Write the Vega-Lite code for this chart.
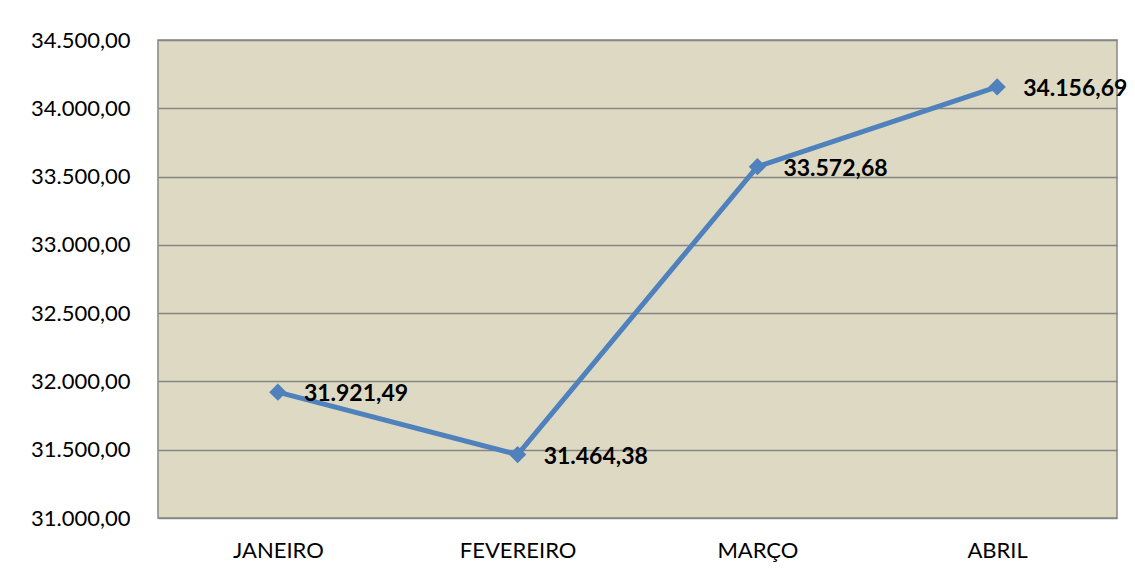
{
  "$schema": "https://vega.github.io/schema/vega-lite/v6.json",
  "autosize": "none",
  "width": 959,
  "height": 478,
  "padding": {"left": 158, "top": 40, "right": 18, "bottom": 62},
  "background": "white",
  "config": {
    "locale": {"number": {"decimal": ",", "thousands": ".", "grouping": [3], "currency": ["R$", ""]}},
    "view": {"fill": "#DDD9C3", "stroke": "#868686", "strokeWidth": 1.5},
    "font": "Lato"
  },
  "data": {"values": [
    {"mes": "JANEIRO", "valor": 31921.49},
    {"mes": "FEVEREIRO", "valor": 31464.38},
    {"mes": "MARÇO", "valor": 33572.68},
    {"mes": "ABRIL", "valor": 34156.69}
  ]},
  "encoding": {
    "x": {"field": "mes", "type": "nominal", "sort": null,
      "scale": {"paddingInner": 0, "paddingOuter": 0},
      "axis": {"title": null, "labelAngle": 0, "labelFontSize": 22, "labelColor": "#000000", "labelFont": "Lato", "domain": false, "ticks": false, "labelPadding": 22, "grid": false}},
    "y": {"field": "valor", "type": "quantitative",
      "scale": {"domain": [31000, 34500], "nice": false, "zero": false},
      "axis": {"title": null, "values": [31000, 31500, 32000, 32500, 33000, 33500, 34000, 34500], "format": ",.2f", "labelFontSize": 22, "labelColor": "#000000", "labelFont": "Lato", "domain": false, "ticks": false, "labelPadding": 28, "gridColor": "#868686", "gridWidth": 1.5, "gridOpacity": 1}}
  },
  "layer": [
    {"mark": {"type": "line", "color": "#4F81BD", "strokeWidth": 5}},
    {"mark": {"type": "point", "shape": "diamond", "filled": true, "color": "#4F81BD", "size": 300, "opacity": 1}},
    {"mark": {"type": "text", "align": "left", "baseline": "middle", "dx": 26, "dy": 2, "fontSize": 23, "fontWeight": "bold", "color": "#000000", "font": "Lato"},
      "encoding": {"text": {"field": "valor", "type": "quantitative", "format": ",.2f"}}}
  ]
}
